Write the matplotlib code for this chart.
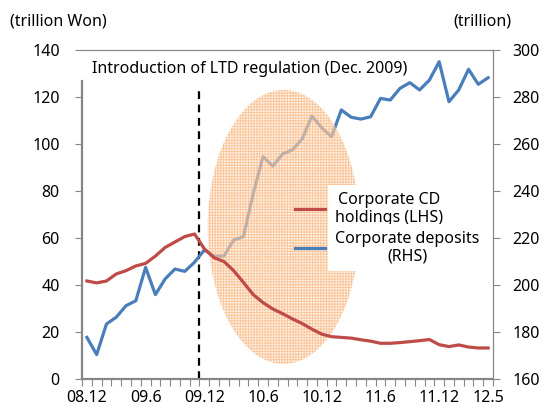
import matplotlib
matplotlib.use("Agg")
import numpy as np
from matplotlib import pyplot as plt
from matplotlib.patches import Ellipse

plt.rcParams['font.family'] = ['Noto Sans', 'DejaVu Sans']
plt.rcParams['hatch.linewidth'] = 0.7

months = ['08.12', '09.1', '09.2', '09.3', '09.4', '09.5', '09.6', '09.7', '09.8', '09.9', '09.10', '09.11',
          '09.12', '10.1', '10.2', '10.3', '10.4', '10.5', '10.6', '10.7', '10.8', '10.9', '10.10', '10.11',
          '10.12', '11.1', '11.2', '11.3', '11.4', '11.5', '11.6', '11.7', '11.8', '11.9', '11.10', '11.11',
          '11.12', '12.1', '12.2', '12.3', '12.4', '12.5']
shown_labels = ['08.12', '09.6', '09.12', '10.6', '10.12', '11.6', '11.12', '12.5']

# corporate CD holdings, trillion won (LHS)
cd_holdings = [41.7, 40.9, 41.7, 44.7, 46.1, 48.1, 49.2, 52.3, 56.0, 58.3, 60.6, 61.7,
               55.4, 51.6, 50.0, 46.1, 41.1, 35.9, 32.5, 29.8, 27.8, 25.6, 23.6, 21.2,
               19.1, 18.0, 17.7, 17.4, 16.7, 16.1, 15.2, 15.2, 15.5, 15.9, 16.3, 16.8,
               14.6, 13.8, 14.5, 13.6, 13.2, 13.2]
# corporate deposits, trillion won (RHS)
deposits = [177.7, 170.4, 183.4, 186.3, 191.2, 193.3, 207.5, 195.9, 202.6, 206.8, 205.8, 209.7,
            214.9, 212.3, 212.3, 219.1, 220.6, 239.0, 254.6, 250.6, 255.8, 257.5, 262.2, 271.9,
            266.9, 263.1, 274.5, 271.4, 270.6, 271.6, 279.4, 278.7, 283.7, 286.1, 283.0, 287.2,
            295.0, 278.0, 283.0, 291.8, 285.4, 288.2]

regulation_month = '09.12'

x = np.arange(len(months))
red = '#be4b48'
blue = '#4a7ebb'
grey = '#868686'
fs = 11.5

fig = plt.figure(figsize=(5.44, 4.08), dpi=100)
ax = fig.add_axes([82 / 544, 1 - 379 / 408, 411 / 544, 329 / 408])
ax2 = ax.twinx()

# deposits under the shading, CD holdings on top of it
l2, = ax2.plot(x, deposits, color=blue, lw=2.3, solid_joinstyle='round', zorder=2)
l1, = ax2.plot(x, cd_holdings, color=red, lw=2.3, solid_joinstyle='round', zorder=4,
               transform=ax.transData)

# dashed line at the start of the regulation
xr = months.index(regulation_month) - 0.5
ax.axvline(xr, ymin=0, ymax=123.8 / 140, color='black', lw=1.6, ls=(0, (3.5, 2.5)))

# shaded ellipse over the adjustment period
ell = Ellipse((20.1, 64.7), 15.5, 116.6, transform=ax.transData,
              facecolor=(1.0, 0.92, 0.85, 0.5), edgecolor=(0.97, 0.66, 0.40, 0.6),
              lw=0, hatch='++++++', zorder=3)
ax2.add_patch(ell)

ax.set_xlim(-0.5, len(months) - 0.5)
ax.set_ylim(0, 140)
ax2.set_ylim(160, 300)
ax.set_yticks(np.arange(0, 141, 20))
ax2.set_yticks(np.arange(160, 301, 20))
ax.set_xticks([months.index(m) for m in shown_labels])
ax.set_xticklabels(shown_labels)
ax.set_xticks(np.arange(-0.5, len(months), 1), minor=True)

for a in (ax, ax2):
    for s in a.spines.values():
        s.set_color(grey)
        s.set_linewidth(0.8)
ax.spines['left'].set_linewidth(1.6)
ax.spines['bottom'].set_linewidth(1.6)
ax.spines['left'].set_bounds(0, 126.8)
ax2.spines['left'].set_visible(False)
ax2.spines['bottom'].set_visible(False)

ax.tick_params(axis='y', direction='out', length=5, width=0.8, color=grey, pad=11, labelsize=fs)
ax2.tick_params(axis='y', direction='out', length=5, width=0.8, color=grey, pad=9, labelsize=fs)
ax.tick_params(axis='x', which='major', length=0, pad=8, labelsize=fs)
ax.tick_params(axis='x', which='minor', direction='out', length=5, width=0.8, color=grey)

ax.text(0.024, 0.943, 'Introduction of LTD regulation (Dec. 2009)', transform=ax.transAxes,
        fontsize=fs, ha='left', va='center')
fig.text(10 / 544, 1 - 22 / 408, '(trillion Won)', fontsize=fs, ha='left', va='center')
fig.text(511 / 544, 1 - 22 / 408, '(trillion)', fontsize=fs, ha='right', va='center')

leg = ax2.legend([l1, l2], ['Corporate CD\nholdings (LHS)', 'Corporate deposits\n(RHS)'],
                 loc='upper left', bbox_to_anchor=(287 / 544, 1 - 184 / 408),
                 bbox_transform=fig.transFigure, frameon=False, fontsize=fs,
                 handlelength=1.9, handletextpad=0.6, labelspacing=0.3, borderpad=0)
leg.set_zorder(10)
for t in leg.get_texts():
    t.set_multialignment('center')
    t.set_linespacing(1.15)
    t.set_bbox(dict(facecolor='white', edgecolor='none', pad=5))

fig.savefig('out.png', dpi=100)
